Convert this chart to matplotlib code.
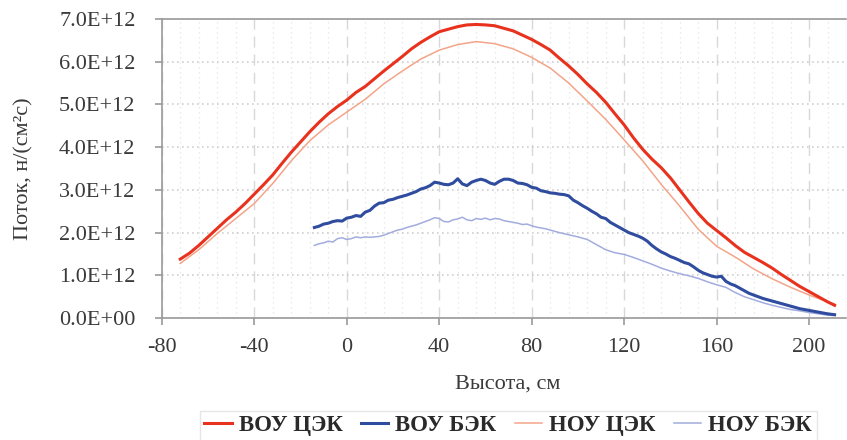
import matplotlib.pyplot as plt
from matplotlib.ticker import FuncFormatter, MultipleLocator

plt.rcParams['font.family'] = ['Liberation Serif', 'DejaVu Serif']
plt.rcParams['axes.unicode_minus'] = False

# ВОУ ЦЭК
h_vou_cek = [-72, -68, -64, -60, -56, -52, -48, -44, -40, -36, -32, -28, -24, -20, -16, -12, -8, -4,
             0, 4, 8, 12, 16, 20, 24, 28, 32, 36, 40, 44, 48, 52, 56, 60, 64, 68, 72, 76, 80, 84,
             88, 92, 96, 100, 104, 108, 112, 116, 120, 124, 128, 132, 136, 140, 144, 148, 152,
             156, 160, 164, 168, 172, 176, 180, 184, 188, 192, 196, 200, 204, 208, 211]
f_vou_cek = [1.38, 1.52, 1.70, 1.90, 2.10, 2.30, 2.48, 2.68, 2.90, 3.12, 3.35, 3.62, 3.88, 4.12,
             4.36, 4.58, 4.78, 4.95, 5.10, 5.28, 5.42, 5.60, 5.78, 5.95, 6.12, 6.30, 6.45, 6.58,
             6.70, 6.76, 6.82, 6.86, 6.87, 6.86, 6.84, 6.78, 6.72, 6.62, 6.52, 6.40, 6.27, 6.08,
             5.90, 5.70, 5.48, 5.28, 5.05, 4.78, 4.52, 4.22, 3.95, 3.72, 3.52, 3.28, 3.00, 2.72,
             2.45, 2.22, 2.05, 1.88, 1.70, 1.54, 1.42, 1.30, 1.17, 1.02, 0.88, 0.74, 0.62, 0.50,
             0.38, 0.30]

# НОУ ЦЭК
h_nou_cek = [-72, -64, -56, -48, -40, -32, -24, -16, -8, 0, 8, 16, 24, 32, 40, 48, 56, 64, 72,
             80, 88, 96, 104, 112, 120, 128, 136, 144, 152, 160, 168, 176, 184, 192, 200, 208, 211]
f_nou_cek = [1.28, 1.60, 1.98, 2.33, 2.68, 3.15, 3.68, 4.15, 4.52, 4.82, 5.12, 5.48, 5.78, 6.06,
             6.27, 6.40, 6.47, 6.42, 6.30, 6.10, 5.85, 5.50, 5.08, 4.65, 4.17, 3.68, 3.13, 2.62,
             2.08, 1.68, 1.43, 1.15, 0.92, 0.72, 0.54, 0.38, 0.33]

# ВОУ БЭК
h_vou_bek = [-14, -12, -10, -8, -6, -4, -2, 0, 2, 4, 6, 8, 10, 12, 14, 16, 18, 20, 22, 24, 26,
             28, 30, 32, 34, 36, 38, 40, 42, 44, 46, 48, 50, 52, 54, 56, 58, 60, 62, 64, 66, 68,
             70, 72, 74, 76, 78, 80, 82, 84, 86, 88, 90, 92, 94, 96, 98, 100, 102, 104, 106, 108,
             110, 112, 114, 116, 118, 120, 122, 124, 126, 128, 130, 132, 134, 136, 138, 140, 142,
             144, 146, 148, 150, 152, 154, 156, 158, 160, 162, 164, 166, 168, 170, 172, 174, 176,
             178, 180, 184, 188, 192, 196, 200, 204, 208, 211]
f_vou_bek = [2.12, 2.15, 2.20, 2.22, 2.26, 2.28, 2.27, 2.34, 2.36, 2.40, 2.38, 2.48, 2.52, 2.62,
             2.69, 2.70, 2.76, 2.78, 2.82, 2.85, 2.88, 2.92, 2.96, 3.02, 3.05, 3.10, 3.18, 3.16,
             3.13, 3.12, 3.16, 3.26, 3.14, 3.10, 3.18, 3.22, 3.25, 3.22, 3.16, 3.13, 3.20, 3.25,
             3.25, 3.22, 3.16, 3.15, 3.12, 3.06, 3.04, 2.98, 2.96, 2.93, 2.92, 2.90, 2.89, 2.86,
             2.76, 2.70, 2.63, 2.57, 2.50, 2.44, 2.36, 2.33, 2.24, 2.18, 2.12, 2.06, 2.00, 1.96,
             1.92, 1.87, 1.80, 1.70, 1.62, 1.55, 1.50, 1.44, 1.40, 1.35, 1.30, 1.27, 1.20, 1.12,
             1.06, 1.02, 0.98, 0.96, 0.98, 0.86, 0.80, 0.76, 0.70, 0.64, 0.58, 0.54, 0.50, 0.46,
             0.40, 0.34, 0.28, 0.22, 0.18, 0.14, 0.10, 0.08]

# НОУ БЭК
h_nou_bek = [-14, -12, -10, -8, -6, -4, -2, 0, 2, 4, 6, 8, 10, 12, 14, 16, 18, 20, 22, 24, 26,
             28, 30, 32, 34, 36, 38, 40, 42, 44, 46, 48, 50, 52, 54, 56, 58, 60, 62, 64, 66, 68,
             70, 72, 74, 76, 78, 80, 82, 84, 86, 88, 90, 92, 96, 100, 104, 108, 112, 116, 120,
             124, 128, 132, 136, 140, 144, 148, 152, 156, 160, 164, 168, 172, 176, 180, 184, 188,
             192, 196, 200, 204, 208, 211]
f_nou_bek = [1.70, 1.74, 1.76, 1.80, 1.78, 1.86, 1.88, 1.84, 1.86, 1.90, 1.88, 1.90, 1.89, 1.90,
             1.91, 1.94, 1.98, 2.02, 2.06, 2.08, 2.12, 2.15, 2.18, 2.22, 2.26, 2.30, 2.35, 2.33,
             2.26, 2.25, 2.30, 2.32, 2.36, 2.30, 2.28, 2.33, 2.31, 2.34, 2.30, 2.33, 2.32, 2.28,
             2.26, 2.24, 2.22, 2.19, 2.20, 2.16, 2.13, 2.11, 2.09, 2.06, 2.03, 2.00, 1.95, 1.90,
             1.84, 1.72, 1.60, 1.53, 1.49, 1.42, 1.34, 1.26, 1.17, 1.10, 1.04, 0.99, 0.93, 0.85,
             0.78, 0.72, 0.60, 0.50, 0.43, 0.36, 0.30, 0.25, 0.20, 0.17, 0.13, 0.10, 0.07, 0.06]

scale = 1e12

fig = plt.figure(figsize=(8.47, 4.40), dpi=100)
ax = fig.add_axes([0.191, 0.277, 0.808, 0.68])

ax.plot(h_vou_cek, [v * scale for v in f_vou_cek], color='#e8321e', lw=2.2, label='ВОУ ЦЭК', zorder=4)
ax.plot(h_vou_bek, [v * scale for v in f_vou_bek], color='#2f4c9e', lw=2.2, label='ВОУ БЭК', zorder=4)
ax.plot(h_nou_cek, [v * scale for v in f_nou_cek], color='#f4a488', lw=1.1, label='НОУ ЦЭК', zorder=3)
ax.plot(h_nou_bek, [v * scale for v in f_nou_bek], color='#a3acde', lw=1.1, label='НОУ БЭК', zorder=3)

ax.set_xlim(-80, 216)
ax.set_ylim(0, 7e12)
ax.xaxis.set_major_locator(MultipleLocator(40))
ax.xaxis.set_minor_locator(MultipleLocator(8))
ax.yaxis.set_major_locator(MultipleLocator(1e12))
ax.yaxis.set_major_formatter(FuncFormatter(lambda v, p: f'{v:.1E}'))

# grid: dashed major verticals, dotted minor verticals and horizontals
ax.grid(axis='x', which='major', color='#d8d8d8', ls=(0, (8, 5)), lw=1.0)
ax.grid(axis='x', which='minor', color='#e4e4e4', ls=(0, (1, 3)), lw=0.9)
ax.grid(axis='y', which='major', color='#cfcfcf', ls=(0, (1, 2)), lw=1.2)

ax.spines['right'].set_visible(False)
for s in ['left', 'bottom', 'top']:
    ax.spines[s].set_color('#9a9a9a')
    ax.spines[s].set_linewidth(1.2)

ax.tick_params(axis='both', which='major', colors='#9a9a9a', labelcolor='#3a3a3a',
               labelsize=16, length=5, width=1.2)
ax.tick_params(axis='x', which='minor', length=0)
ax.tick_params(axis='x', pad=9)
ax.tick_params(axis='y', pad=14)

ax.set_xlabel('Высота, см', fontsize=16, color='#3a3a3a')
ax.set_ylabel('Поток, н/(см²с)', fontsize=16, color='#3a3a3a')
ax.xaxis.set_label_coords(0.506, -0.19)
ax.yaxis.set_label_coords(-0.187, 0.5)

leg = ax.legend(loc='upper center', bbox_to_anchor=(0.506, -0.31), ncol=4, frameon=True,
                fancybox=False, edgecolor='#e0e0e0', handlelength=1.2, handletextpad=0.3,
                columnspacing=0.8, borderpad=0.2, borderaxespad=0,
                prop={'size': 16.5, 'weight': 'bold'})
for t in leg.get_texts():
    t.set_color('#2a2a2a')

fig.savefig('out.png', dpi=100)
